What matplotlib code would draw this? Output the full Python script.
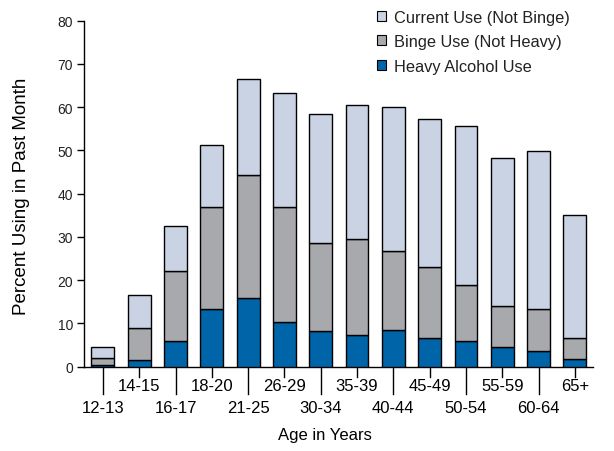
import matplotlib
matplotlib.use("Agg")
import matplotlib.pyplot as plt
from matplotlib.patches import Patch
import numpy as np

plt.rcParams['font.family'] = ['Liberation Sans', 'DejaVu Sans']

ages = ["12-13", "14-15", "16-17", "18-20", "21-25", "26-29", "30-34",
        "35-39", "40-44", "45-49", "50-54", "55-59", "60-64", "65+"]
heavy = [0.3, 1.5, 6.0, 13.4, 15.8, 10.4, 8.1, 7.2, 8.4, 6.7, 6.0, 4.4, 3.7, 1.7]
binge_top = [1.9, 9.0, 22.2, 36.8, 44.2, 36.8, 28.5, 29.6, 26.8, 23.1, 18.8, 14.1, 13.4, 6.7]
current_top = [4.4, 16.5, 32.4, 51.2, 66.6, 63.3, 58.5, 60.5, 60.1, 57.3, 55.7, 48.3, 49.9, 35.1]

binge = [b - h for b, h in zip(binge_top, heavy)]
current = [c - b for c, b in zip(current_top, binge_top)]

c_light = "#C9D3E3"
c_grey = "#A8A9AD"
c_blue = "#0064A8"

fig = plt.figure(figsize=(6.14, 4.52), dpi=100)
ax = fig.add_axes([84/614, 84.5/452, (592.7-84)/614, (367.5-21.7)/452])

x = np.arange(len(ages))
w = 0.63
ax.bar(x, heavy, w, color=c_blue, edgecolor="black", linewidth=1.0, zorder=3)
ax.bar(x, binge, w, bottom=heavy, color=c_grey, edgecolor="black", linewidth=1.0, zorder=3)
ax.bar(x, current, w, bottom=binge_top, color=c_light, edgecolor="black", linewidth=1.0, zorder=3)

ax.set_xlim(-0.52, 13.49)
ax.set_ylim(0, 80)
ax.set_yticks(range(0, 81, 10))
ax.tick_params(axis='y', direction='out', length=5, width=1, labelsize=10, pad=3, colors='black')
for t in ax.get_yticklabels():
    t.set_color('#222222')

for s in ['top', 'right']:
    ax.spines[s].set_visible(False)
ax.spines['left'].set_linewidth(1)
ax.spines['bottom'].set_linewidth(1)

ax.set_xticks(x)
ax.set_xticklabels([])
ax.tick_params(axis='x', length=0)
for i, lab in enumerate(ages):
    if i % 2 == 0:
        ax.plot([i, i], [0, -27/4.3225], color='black', lw=1, clip_on=False)
        ax.text(i, -41/4.3225, lab, ha='center', va='center', fontsize=12)
    else:
        ax.plot([i, i], [0, -10/4.3225], color='black', lw=1, clip_on=False)
        ax.text(i, -19.5/4.3225, lab, ha='center', va='center', fontsize=12)

fig.text(324.5/614, 1-436/452, "Age in Years", ha='center', va='center', fontsize=12)
fig.text(22/614, 1-196/452, "Percent Using in Past Month", ha='center', va='center',
         rotation=90, fontsize=13.5)

handles = [Patch(facecolor=c_light, edgecolor='black', lw=0.8),
           Patch(facecolor=c_grey, edgecolor='black', lw=0.8),
           Patch(facecolor=c_blue, edgecolor='black', lw=0.8)]
labels = ["Current Use (Not Binge)", "Binge Use (Not Heavy)", "Heavy Alcohol Use"]
leg = fig.legend(handles, labels, loc='upper left', bbox_to_anchor=(370/614, 1-4/452),
                 frameon=False, fontsize=11.8, handlelength=0.6, handleheight=0.6,
                 handletextpad=0.45, labelspacing=0.58, borderaxespad=0)
for t in leg.get_texts():
    t.set_color('#222222')

fig.savefig("out.png", dpi=100)
